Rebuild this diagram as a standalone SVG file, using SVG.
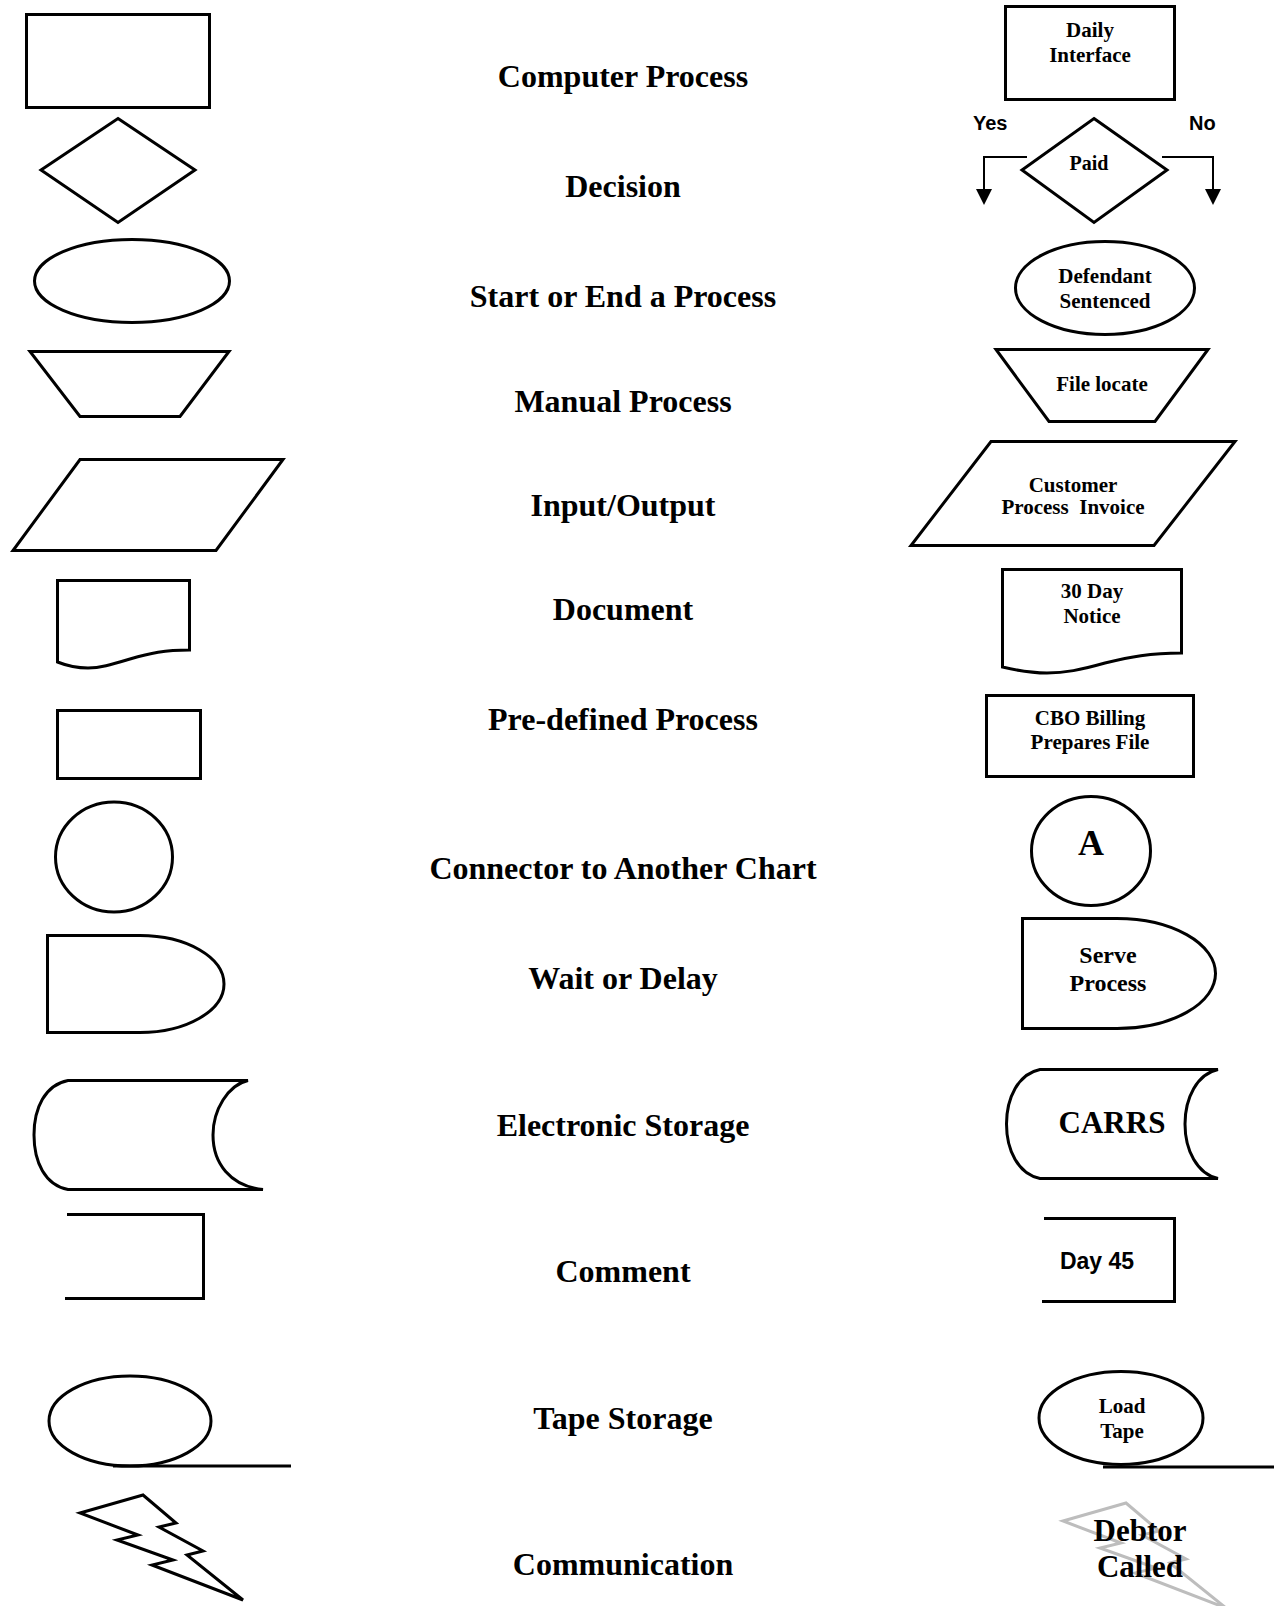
<svg xmlns="http://www.w3.org/2000/svg" width="1274" height="1606" viewBox="0 0 1274 1606">
  <style>
    .shape { fill: #fff; stroke: #000; stroke-width: 3; stroke-linejoin: miter; }
    .open { fill: none; stroke: #000; stroke-width: 3; }
    .bolt-ghost { fill: none; stroke: #bdbdbd; stroke-width: 3; }
    .wire { fill: none; stroke: #000; stroke-width: 2; }
    .label { font-family: "Liberation Serif", "Times New Roman", serif; font-weight: bold; font-size: 32px; fill: #000; text-anchor: middle; }
    .t { font-family: "Liberation Serif", "Times New Roman", serif; font-weight: bold; font-size: 21px; fill: #000; text-anchor: middle; white-space: pre; }
    .t20 { font-size: 20px; }
    .t24 { font-size: 24px; }
    .t31 { font-size: 31px; }
    .t36 { font-size: 36px; }
    .s { font-family: "Liberation Sans", Arial, sans-serif; font-weight: bold; font-size: 20px; fill: #000; }
    .s23 { font-size: 23px; text-anchor: middle; }
  </style>
  <defs>
    <marker id="arrowhead" viewBox="0 0 16 16" markerUnits="userSpaceOnUse" markerWidth="16" markerHeight="16" refX="2" refY="8" orient="auto">
      <path d="M0,0 L16,8 L0,16 Z" fill="#000"/>
    </marker>
  </defs>
  <rect width="1274" height="1606" fill="#fff"/>

  <!-- legend column: generic symbols -->
  <g id="sym-computer-process"><rect class="shape" x="26.5" y="14.5" width="183" height="93"/></g>
  <g id="sym-decision"><polygon class="shape" points="118,118.5 195,170 118,222.5 41,170"/></g>
  <g id="sym-terminator"><ellipse class="shape" cx="132" cy="281" rx="97.5" ry="41.5"/></g>
  <g id="sym-manual"><path class="shape" d="M30,351.5 H229 L180,416.5 H80 Z"/></g>
  <g id="sym-io"><path class="shape" d="M80,459.5 H283 L216,550.5 H13 Z"/></g>
  <g id="sym-document"><path class="shape" d="M57.5,580.5 H189.5 V650 C165,650 150,653 130,659 C110,665 100,668 88,668 C75,668 65,665 57.5,662 Z"/></g>
  <g id="sym-predefined"><rect class="shape" x="57.5" y="710.5" width="143" height="68"/></g>
  <g id="sym-connector"><ellipse class="shape" cx="114" cy="857" rx="58.5" ry="55"/></g>
  <g id="sym-delay"><path class="shape" d="M47.5,935.5 H140 A84,48.5 0 0 1 140,1032.5 H47.5 Z"/></g>
  <g id="sym-storage"><path class="shape" d="M68,1080.5 H248 C228,1085 213,1110 213,1135 C213,1163 230,1186 263,1189.5 H68 C45,1185 34,1162 34,1135 C34,1108 45,1085 68,1080.5 Z"/></g>
  <g id="sym-comment"><path class="open" d="M67,1214.5 H203.5 V1298.5 H65"/></g>
  <g id="sym-tape">
    <ellipse class="shape" cx="130" cy="1421" rx="81" ry="45"/>
    <line class="open" x1="113" y1="1466" x2="291" y2="1466"/>
  </g>
  <g id="sym-communication"><polygon class="shape" points="143,1495 80,1513 138,1535 117,1540 173,1560 152,1565 243,1600 187,1555 203,1551 159,1527 176,1523"/></g>

  <!-- legend column: names -->
  <g id="names">
    <text class="label" x="623" y="87">Computer Process</text>
    <text class="label" x="623" y="197">Decision</text>
    <text class="label" x="623" y="307">Start or End a Process</text>
    <text class="label" x="623" y="412">Manual Process</text>
    <text class="label" x="623" y="516">Input/Output</text>
    <text class="label" x="623" y="620">Document</text>
    <text class="label" x="623" y="730">Pre-defined Process</text>
    <text class="label" x="623" y="879">Connector to Another Chart</text>
    <text class="label" x="623" y="989">Wait or Delay</text>
    <text class="label" x="623" y="1136">Electronic Storage</text>
    <text class="label" x="623" y="1282">Comment</text>
    <text class="label" x="623" y="1429">Tape Storage</text>
    <text class="label" x="623" y="1575">Communication</text>
  </g>

  <!-- example column -->
  <g id="ex-daily-interface">
    <rect class="shape" x="1005.5" y="6.5" width="169" height="93"/>
    <text class="t" x="1090" y="37">Daily</text>
    <text class="t" x="1090" y="62">Interface</text>
  </g>
  <g id="ex-paid">
    <polygon class="shape" points="1094,118.5 1167,170 1094,222.5 1022,170"/>
    <text class="t t20" x="1089" y="170">Paid</text>
  </g>
  <g id="ex-sentenced">
    <ellipse class="shape" cx="1105" cy="288" rx="89.5" ry="46.5"/>
    <text class="t" x="1105" y="283">Defendant</text>
    <text class="t" x="1105" y="308">Sentenced</text>
  </g>
  <g id="ex-file-locate">
    <path class="shape" d="M996,349.5 H1208 L1155,421.5 H1049 Z"/>
    <text class="t" x="1102" y="391">File locate</text>
  </g>
  <g id="ex-invoice">
    <path class="shape" d="M991,441.5 H1235 L1154,545.5 H911 Z"/>
    <text class="t" x="1073" y="492">Customer</text>
    <text class="t" x="1073" y="514">Process  Invoice</text>
  </g>
  <g id="ex-notice">
    <path class="shape" d="M1002.5,569.5 H1181.5 V653 C1150,653 1130,657 1105,663 C1080,670 1065,673 1047,673 C1030,673 1015,670 1002.5,667 Z"/>
    <text class="t" x="1092" y="598">30 Day</text>
    <text class="t" x="1092" y="623">Notice</text>
  </g>
  <g id="ex-cbo">
    <rect class="shape" x="986.5" y="695.5" width="207" height="81"/>
    <text class="t" x="1090" y="725">CBO Billing</text>
    <text class="t" x="1090" y="749">Prepares File</text>
  </g>
  <g id="ex-connector-a">
    <ellipse class="shape" cx="1091" cy="851" rx="59.5" ry="54.5"/>
    <text class="t t36" x="1091" y="855">A</text>
  </g>
  <g id="ex-serve">
    <path class="shape" d="M1022.5,918.5 H1117 A98.5,55 0 0 1 1117,1028.5 H1022.5 Z"/>
    <text class="t t24" x="1108" y="963">Serve</text>
    <text class="t t24" x="1108" y="991">Process</text>
  </g>
  <g id="ex-carrs">
    <path class="shape" d="M1040,1069.5 H1218 C1197,1074 1185,1098 1185,1124 C1185,1150 1197,1174 1218,1178.5 H1040 C1018,1174 1006.5,1150 1006.5,1124 C1006.5,1098 1018,1074 1040,1069.5 Z"/>
    <text class="t t31" x="1112" y="1133">CARRS</text>
  </g>
  <g id="ex-day45">
    <path class="open" d="M1044,1218.5 H1174.5 V1301.5 H1042"/>
    <text class="s s23" x="1097" y="1269">Day 45</text>
  </g>
  <g id="ex-load-tape">
    <ellipse class="shape" cx="1121" cy="1418" rx="82" ry="46.5"/>
    <line class="open" x1="1103" y1="1467" x2="1274" y2="1467"/>
    <text class="t" x="1122" y="1413">Load</text>
    <text class="t" x="1122" y="1438">Tape</text>
  </g>
  <g id="ex-debtor">
    <polygon class="bolt-ghost" transform="translate(983,8)" points="143,1495 80,1513 138,1535 117,1540 173,1560 152,1565 243,1600 187,1555 203,1551 159,1527 176,1523"/>
    <text class="t t31" x="1140" y="1541">Debtor</text>
    <text class="t t31" x="1140" y="1577">Called</text>
  </g>

  <!-- decision branches -->
  <g id="connectors">
    <path class="wire" d="M1027,157 H984 V191" marker-end="url(#arrowhead)"/>
    <path class="wire" d="M1162,157 H1213 V191" marker-end="url(#arrowhead)"/>
    <text class="s" x="973" y="130">Yes</text>
    <text class="s" x="1189" y="130">No</text>
  </g>
</svg>
